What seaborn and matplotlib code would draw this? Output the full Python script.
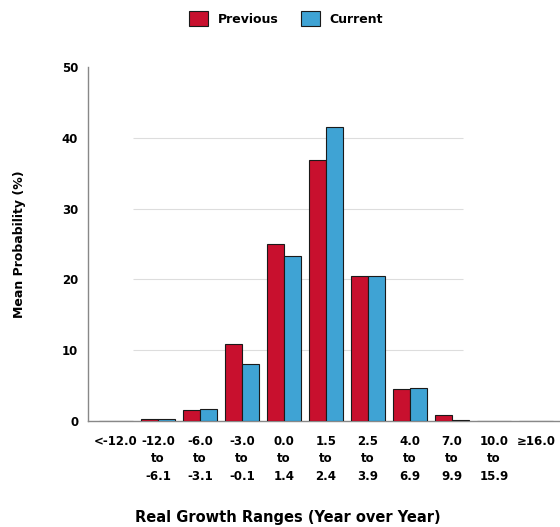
import matplotlib
matplotlib.use("Agg")
import matplotlib.pyplot as plt
import seaborn as sns
import pandas as pd

# growth range categories (x tick labels)
ranges = ['<-12.0', '-12.0\nto\n-6.1', '-6.0\nto\n-3.1', '-3.0\nto\n-0.1', '0.0\nto\n1.4',
          '1.5\nto\n2.4', '2.5\nto\n3.9', '4.0\nto\n6.9', '7.0\nto\n9.9', '10.0\nto\n15.9', '\u226516.0']
previous = [0.05, 0.3, 1.5, 10.9, 25.0, 36.8, 20.5, 4.5, 0.8, 0.0, 0.0]
current = [0.0, 0.3, 1.7, 8.0, 23.3, 41.5, 20.5, 4.7, 0.2, 0.0, 0.0]

df = pd.DataFrame({
    'range': ranges * 2,
    'prob': previous + current,
    'series': ['Previous'] * len(ranges) + ['Current'] * len(ranges),
})

sns.set_style('white')
plt.rcParams['font.family'] = ['DejaVu Sans']
plt.rcParams['text.color'] = 'black'
plt.rcParams['axes.labelcolor'] = 'black'
plt.rcParams['xtick.color'] = 'black'
plt.rcParams['ytick.color'] = 'black'

fig = plt.figure(figsize=(5.6, 5.27), dpi=100)
ax = fig.add_axes([0.157, 0.201, 0.843, 0.672])

sns.barplot(data=df, x='range', y='prob', hue='series', order=ranges,
            hue_order=['Previous', 'Current'],
            palette={'Previous': '#C8102E', 'Current': '#3FA3D4'}, saturation=1,
            edgecolor='#1a1a1a', linewidth=0.8, width=0.8, ax=ax, zorder=3)

ax.set_ylim(0, 50)
ax.set_xlim(-0.67, 10.57)
ax.set_yticks([0, 10, 20, 30, 40, 50])
ax.hlines([10, 20, 30, 40], 0.4, 8.25, color='#dddddd', linewidth=0.8, zorder=1)

for s in ['top', 'right']:
    ax.spines[s].set_visible(False)
for s in ['left', 'bottom']:
    ax.spines[s].set_color('#888888')
    ax.spines[s].set_linewidth(1.0)

ax.tick_params(axis='y', length=3, color='#888888', labelsize=8.5, pad=4)
ax.tick_params(axis='x', length=0, labelsize=8.5, pad=10)
for lbl in ax.get_xticklabels() + ax.get_yticklabels():
    lbl.set_fontweight('bold')
for lbl in ax.get_xticklabels():
    lbl.set_linespacing(1.45)

ax.set_xlabel('Real Growth Ranges (Year over Year)', fontsize=10.5, fontweight='bold')
ax.xaxis.set_label_coords(0.424, -0.252)
ax.set_ylabel('Mean Probability (%)', fontsize=9, fontweight='bold', labelpad=26)

leg = ax.legend(loc='upper center', bbox_to_anchor=(0.42, 1.19), ncol=2, frameon=False,
                fontsize=9, handlelength=1.5, handleheight=1.5, columnspacing=1.8,
                handletextpad=0.8)
for t in leg.get_texts():
    t.set_fontweight('bold')

fig.savefig('out.png', dpi=100)
